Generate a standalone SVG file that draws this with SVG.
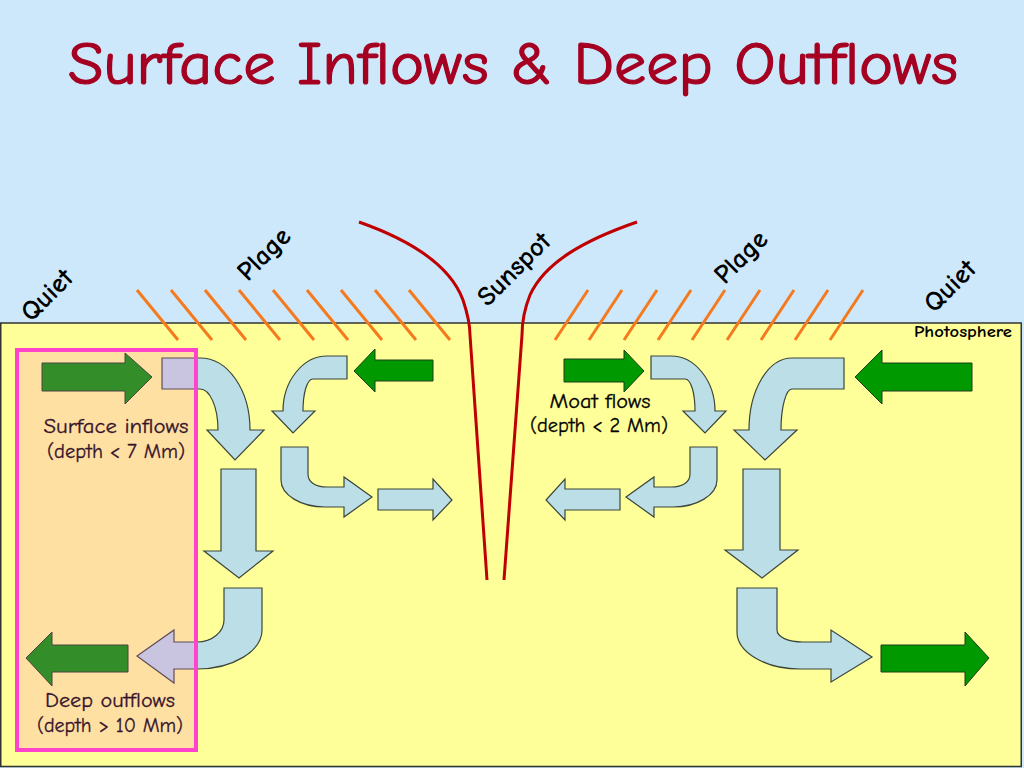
<svg xmlns="http://www.w3.org/2000/svg" width="1024" height="768" viewBox="0 0 1024 768">
<style>
.blue{fill:#BCDEE6;stroke:#3a463a;stroke-width:1.2;stroke-linejoin:miter}
.green{fill:#009900;stroke:#1c3c1c;stroke-width:1}
.hatch{stroke:#F57A1E;stroke-width:3;stroke-linecap:butt}
.spot{fill:none;stroke:#C00000;stroke-width:3}
.lbl{font-family:"Comic Sans MS","Comic Neue","Open Sans","DejaVu Sans",sans-serif;font-size:21px;fill:#000;text-anchor:middle;stroke:#000;stroke-width:0.3}
.rot{font-family:"Comic Sans MS","Comic Neue","Open Sans","DejaVu Sans",sans-serif;font-size:27px;font-weight:bold;fill:#000;text-anchor:middle}
</style>
<rect x="0" y="0" width="1024" height="768" fill="#CCE8FA"/>
<rect x="0.75" y="323" width="1020.5" height="443.5" fill="#FFFF99" stroke="#333" stroke-width="1.5"/>
<text x="513" y="84" textLength="890" lengthAdjust="spacingAndGlyphs" style="font-family:'Comic Sans MS','Comic Neue','Open Sans','DejaVu Sans',sans-serif;font-size:60px;fill:#A50021;stroke:#A50021;stroke-width:1.2;text-anchor:middle">Surface Inflows &amp; Deep Outflows</text>
<g id="hatches">
<path class="hatch" d="M137,290L178,340M171,290L212,340M205,290L246,340M239,290L280,340M273,290L314,340M307,290L348,340M341,290L382,340M375,290L416,340M409,290L450,340"/>
<path class="hatch" d="M555,340L588,290M589,340L622,290M624,340L657,290M658,340L691,290M692,340L725,290M727,340L760,290M761,340L794,290M795,340L828,290M830,340L863,290"/>
</g>
<g id="sunspot">
<path class="spot" d="M359,222 C410,240 450,265 463,300 C468,315 470,325 470,335 L487,580"/>
<path class="spot" d="M637,222 C585,240 545,262 530,295 C524,310 522,322 522,335 L504,580"/>
</g>
<g id="labels">
<text class="rot" transform="translate(46,294) rotate(-45)" y="10">Quiet</text>
<text class="rot" transform="translate(263,253) rotate(-45)" y="10">Plage</text>
<text class="rot" transform="translate(513,268) rotate(-45)" y="10">Sunspot</text>
<text class="rot" transform="translate(740,256) rotate(-45)" y="10">Plage</text>
<text class="rot" transform="translate(949,285) rotate(-45)" y="10">Quiet</text>
<text x="1012" y="337" style="font-family:'Comic Sans MS','Comic Neue','Open Sans','DejaVu Sans',sans-serif;font-size:15px;font-weight:bold;fill:#000;text-anchor:end" textLength="98" lengthAdjust="spacingAndGlyphs">Photosphere</text>
</g>
<g id="connectors">
<path id="g1" class="green" d="M42,363 L125,363 L125,353 L152,377 L125,404 L125,391 L42,391 Z"/>
<path id="a1" class="blue" d="M162,358 L200,358 C228,358 250,390 250,430 L264,430 L235,460 L207,430 L218,430 C218,407 210,389 200,389 L162,389 Z"/>
<path id="a2" class="blue" d="M221,469 L256,469 L256,551 L273,551 L239,578 L204,551 L221,551 Z"/>
<path id="a3" class="blue" d="M224,588 L262,588 L262,630 C262,651 233,669 197,669 L174,669 L174,683 L137,656 L174,630 L174,642 L197,642 C212,642 224,632 224,620 Z"/>
<path id="g2" class="green" d="M128,645 L52,645 L52,632 L26,658 L52,686 L52,672 L128,672 Z"/>
<path id="g3" class="green" d="M433,360 L375,360 L375,349 L354,371 L375,392 L375,381 L433,381 Z"/>
<path id="a4" class="blue" d="M347,356 L327,356 C303,356 283,381 283,411 L272,411 L293,433 L315,411 L303,411 C303,393 307,379 313,379 L347,379 Z"/>
<path id="a5" class="blue" d="M281,447 L308,447 L308,474 C308,482 315,487 327,487 L344,487 L344,477 L372,497 L344,517 L344,507 L325,507 C301,507 281,495 281,480 Z"/>
<path id="a6" class="blue" d="M378,489 L433,489 L433,479 L452,500 L433,520 L433,510 L378,510 Z"/>
<path id="g4" class="green" d="M564,359 L624,359 L624,350 L644,371 L624,392 L624,382 L564,382 Z"/>
<path id="a7" class="blue" d="M651,356 L671,356 C695,356 715,381 715,411 L726,411 L705,433 L683,411 L695,411 C695,393 691,379 685,379 L651,379 Z"/>
<path id="a8" class="blue" d="M717,447 L690,447 L690,474 C690,482 683,487 671,487 L654,487 L654,477 L626,497 L654,517 L654,507 L673,507 C697,507 717,495 717,480 Z"/>
<path id="a9" class="blue" d="M620,489 L565,489 L565,479 L546,500 L565,520 L565,510 L620,510 Z"/>
<path id="g5" class="green" d="M972,363 L882,363 L882,350 L855,377 L882,404 L882,391 L972,391 Z"/>
<path id="a10" class="blue" d="M844,358 L792,358 C768,358 749,390 749,430 L734,430 L765,460 L797,430 L781,430 C781,407 786,389 792,389 L844,389 Z"/>
<path id="a11" class="blue" d="M743,469 L780,469 L780,550 L798,550 L762,578 L725,550 L743,550 Z"/>
<path id="a12" class="blue" d="M737,588 L777,588 L777,630 C777,637 788,642 803,642 L831,642 L831,630 L872,657 L831,682 L831,669 L800,669 C765,669 737,652 737,632 Z"/>
<path id="g6" class="green" d="M881,645 L965,645 L965,632 L989,658 L965,686 L965,672 L881,672 Z"/>
</g>
<g id="moat">
<text class="lbl" x="600" y="408" textLength="101" lengthAdjust="spacingAndGlyphs">Moat flows</text>
<text class="lbl" x="599" y="432" textLength="138" lengthAdjust="spacingAndGlyphs">(depth &lt; 2 Mm)</text>
</g>
<g id="box">
<text class="lbl" x="116" y="433" textLength="145" lengthAdjust="spacingAndGlyphs">Surface inflows</text>
<text class="lbl" x="116" y="458" textLength="138" lengthAdjust="spacingAndGlyphs">(depth &lt; 7 Mm)</text>
<text class="lbl" x="110" y="707" textLength="130" lengthAdjust="spacingAndGlyphs">Deep outflows</text>
<text class="lbl" x="110" y="732" textLength="146" lengthAdjust="spacingAndGlyphs">(depth &gt; 10 Mm)</text>
<rect x="17" y="350" width="179" height="400" fill="#FF66CC" fill-opacity="0.2" stroke="#FF44CC" stroke-width="4"/>
</g>
</svg>
